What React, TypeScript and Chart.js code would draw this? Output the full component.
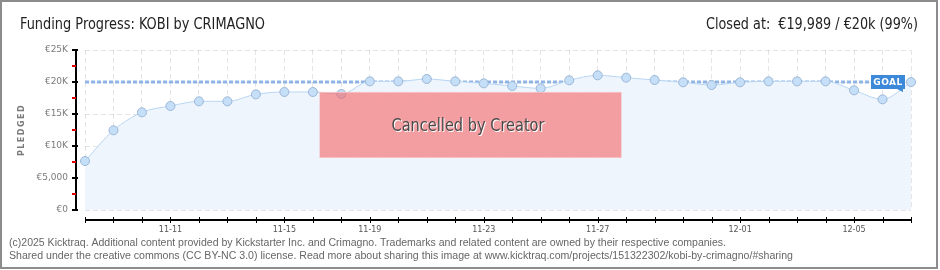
import React, { useEffect, useRef } from 'react';
import { Chart, registerables } from 'chart.js';

Chart.register(...registerables);

// ---- data ----
const dayTickLabels = ['', '', '', '11-11', '', '', '', '11-15', '', '', '11-19', '', '', '', '11-23', '', '', '', '11-27', '', '', '', '', '12-01', '', '', '', '12-05', '', ''];
const pledged = [7650, 12450, 15260, 16250, 16980, 16980, 18070, 18440, 18440, 18130, 20100, 20100, 20470, 20100, 19790, 19380, 19010, 20260, 21040, 20680, 20310, 19950, 19530, 19950, 20100, 20100, 20100, 18700, 17290, 19989];
const yTicks = [0, 5000, 10000, 15000, 20000, 25000];
const yTickLabels = ['€0', '€5,000', '€10K', '€15K', '€20K', '€25K'];
const yMinorTicks = [2500, 7500, 12500, 17500, 22500];
const goal = 20000;
const titleText = 'Funding Progress: KOBI by CRIMAGNO';
const statusText = 'Closed at:  €19,989 / €20k (99%)';
const footerLines = [
  '(c)2025 Kicktraq. Additional content provided by Kickstarter Inc. and Crimagno. Trademarks and related content are owned by their respective companies.',
  'Shared under the creative commons (CC BY-NC 3.0) license. Read more about sharing this image at www.kicktraq.com/projects/151322302/kobi-by-crimagno/#sharing',
];
const cancelText = 'Cancelled by Creator';

const TITLE_FONT = '"DejaVu Sans Condensed", "Liberation Sans Narrow", "DejaVu Sans", sans-serif';

function fitText(ctx: CanvasRenderingContext2D, text: string, x: number, y: number, width: number, font: string, color: string, align: 'left' | 'right' = 'left') {
  ctx.save();
  ctx.font = font;
  ctx.fillStyle = color;
  ctx.textAlign = 'left';
  ctx.textBaseline = 'alphabetic';
  const w = ctx.measureText(text).width;
  const s = width / w;
  const left = align === 'left' ? x : x - width;
  ctx.translate(left, y);
  ctx.scale(s, 1);
  ctx.fillText(text, 0, 0);
  ctx.restore();
}

const decorPlugin = {
  id: 'decor',
  beforeDraw(chart: any) {
    const ctx: CanvasRenderingContext2D = chart.ctx;
    ctx.save();
    ctx.fillStyle = '#ffffff';
    ctx.fillRect(0, 0, chart.width, chart.height);
    ctx.strokeStyle = '#8c8c8c';
    ctx.lineWidth = 2;
    ctx.strokeRect(1, 1, 936, 267);
    ctx.restore();

    fitText(ctx, titleText, 20, 29, 245, '15px ' + TITLE_FONT, '#222222');
    fitText(ctx, statusText, 918, 29, 212, '15px ' + TITLE_FONT, '#222222', 'right');
    fitText(ctx, footerLines[0], 9, 246, 717, '10px "Liberation Sans", sans-serif', '#666666');
    fitText(ctx, footerLines[1], 9, 259, 784, '10px "Liberation Sans", sans-serif', '#666666');

    ctx.save();
    ctx.translate(22, 130);
    ctx.rotate(-Math.PI / 2);
    ctx.font = 'bold 8px "DejaVu Sans", sans-serif';
    (ctx as any).letterSpacing = '1.5px';
    ctx.fillStyle = '#7a7a7a';
    ctx.textAlign = 'center';
    ctx.textBaseline = 'middle';
    ctx.fillText('PLEDGED', 0, 0);
    ctx.restore();
  },
  beforeDatasetsDraw(chart: any) {
    const ctx: CanvasRenderingContext2D = chart.ctx;
    const xs = chart.scales.x;
    const ys = chart.scales.y;
    const y = ys.getPixelForValue(goal);
    const x0 = xs.getPixelForValue(0);
    const x1 = chart.chartArea.right - 40;
    ctx.save();
    ctx.strokeStyle = '#8fb5e6';
    ctx.lineWidth = 3;
    ctx.setLineDash([4, 2]);
    ctx.beginPath();
    ctx.moveTo(x0, y);
    ctx.lineTo(x1, y);
    ctx.stroke();
    ctx.restore();
  },
  afterDatasetsDraw(chart: any) {
    const ctx: CanvasRenderingContext2D = chart.ctx;
    const xs = chart.scales.x;
    const ys = chart.scales.y;
    const area = chart.chartArea;

    // cancelled box
    const bx0 = xs.getPixelForValue(8.24);
    const bx1 = xs.getPixelForValue(18.83);
    const by0 = ys.getPixelForValue(18440);
    const by1 = ys.getPixelForValue(8125);
    ctx.save();
    ctx.fillStyle = 'rgba(243, 98, 98, 0.62)';
    ctx.fillRect(bx0, by0, bx1 - bx0, by1 - by0);
    ctx.beginPath();
    ctx.rect(bx0, by0, bx1 - bx0, by1 - by0);
    ctx.clip();
    ctx.strokeStyle = 'rgba(255,255,255,0.12)';
    ctx.lineWidth = 1;
    for (let k = -200; k < 400; k += 3) {
      ctx.beginPath();
      ctx.moveTo(bx0 + k, by1);
      ctx.lineTo(bx0 + k + (by1 - by0), by0);
      ctx.stroke();
    }
    ctx.restore();
    ctx.save();
    ctx.strokeStyle = 'rgba(250,200,200,0.8)';
    ctx.lineWidth = 1;
    ctx.beginPath();
    ctx.moveTo(bx0, by0 + 0.5);
    ctx.lineTo(bx1, by0 + 0.5);
    ctx.moveTo(bx0, by1 - 0.5);
    ctx.lineTo(bx1, by1 - 0.5);
    ctx.stroke();
    ctx.restore();
    const cx = (bx0 + bx1) / 2 - 3;
    fitText(ctx, cancelText, cx - 76 + 1, 132, 153, '18px ' + TITLE_FONT, '#ffffff');
    fitText(ctx, cancelText, cx - 76, 131, 153, '18px ' + TITLE_FONT, '#4a4a4a');

    // GOAL label
    const gy = ys.getPixelForValue(goal);
    const gx = area.right - 40;
    ctx.save();
    ctx.fillStyle = '#3d89d9';
    ctx.fillRect(gx, gy - 7, 34, 14);
    ctx.beginPath();
    ctx.moveTo(gx + 26, gy + 7);
    ctx.lineTo(gx + 32, gy + 7);
    ctx.lineTo(gx + 32, gy + 10);
    ctx.closePath();
    ctx.fill();
    ctx.fillStyle = '#ffffff';
    ctx.font = 'bold 9px "DejaVu Sans", sans-serif';
    (ctx as any).letterSpacing = '0.5px';
    ctx.textAlign = 'center';
    ctx.textBaseline = 'middle';
    ctx.fillText('GOAL', gx + 17, gy + 0.5);
    ctx.restore();

    // axes
    ctx.save();
    ctx.strokeStyle = '#000000';
    ctx.lineWidth = 2;
    const axY = area.bottom + 10;
    ctx.beginPath();
    ctx.moveTo(area.left, axY);
    ctx.lineTo(area.right, axY);
    ctx.stroke();
    ctx.lineWidth = 1;
    for (let i = 0; i < pledged.length; i++) {
      const x = Math.round(xs.getPixelForValue(i)) + 0.5;
      ctx.beginPath();
      ctx.moveTo(x, axY - 3);
      ctx.lineTo(x, axY + 3);
      ctx.stroke();
    }
    const axX = area.left - 9;
    ctx.lineWidth = 2;
    ctx.beginPath();
    ctx.moveTo(axX, ys.getPixelForValue(25000));
    ctx.lineTo(axX, ys.getPixelForValue(0));
    ctx.stroke();
    ctx.lineWidth = 2;
    for (const v of yTicks) {
      const y = ys.getPixelForValue(v);
      ctx.beginPath();
      ctx.moveTo(axX - 4, y);
      ctx.lineTo(axX + 2, y);
      ctx.stroke();
    }
    ctx.strokeStyle = '#e00000';
    for (const v of yMinorTicks) {
      const y = ys.getPixelForValue(v);
      ctx.beginPath();
      ctx.moveTo(axX - 4, y);
      ctx.lineTo(axX, y);
      ctx.stroke();
    }
    ctx.restore();
  },
};

export default function App() {
  const ref = useRef<HTMLCanvasElement | null>(null);
  useEffect(() => {
    if (!ref.current) return;
    const chart = new Chart(ref.current, {
      type: 'line',
      data: {
        labels: dayTickLabels,
        datasets: [
          {
            data: pledged,
            borderColor: '#b9d6f5',
            borderWidth: 1,
            backgroundColor: '#eef5fd',
            fill: 'origin',
            cubicInterpolationMode: 'monotone',
            pointRadius: 4.5,
            pointBackgroundColor: '#c5dff9',
            pointBorderColor: '#9cb7d6',
            pointBorderWidth: 1,
          },
        ],
      },
      options: {
        animation: false,
        responsive: false,
        devicePixelRatio: 1,
        layout: { padding: { top: 50, left: 8, right: 29, bottom: 0 } },
        plugins: { legend: { display: false }, tooltip: { enabled: false } },
        scales: {
          x: {
            type: 'category',
            offset: false,
            grid: { color: 'rgba(0,0,0,0.1)', drawTicks: false },
            border: { display: false, dash: [5, 3] },
            ticks: {
              autoSkip: false,
              maxRotation: 0,
              padding: 15,
              color: '#555555',
              font: { family: '"DejaVu Sans", sans-serif', size: 8 },
              callback: (_v: any, i: number) => dayTickLabels[i],
            },
            afterFit: (s: any) => {
              s.height = 60;
            },
          },
          y: {
            min: 0,
            max: 25000,
            afterBuildTicks: (s: any) => {
              s.ticks = yTicks.map((v) => ({ value: v }));
            },
            grid: { color: 'rgba(0,0,0,0.1)', drawTicks: false },
            border: { display: false, dash: [5, 3] },
            ticks: {
              padding: 17,
              color: '#7a7a7a',
              font: { family: '"DejaVu Sans", sans-serif', size: 9 },
              callback: (v: any) => yTickLabels[yTicks.indexOf(Number(v))],
            },
            afterFit: (s: any) => {
              s.width = 77;
            },
          },
        },
      },
      plugins: [decorPlugin],
    } as any);
    return () => chart.destroy();
  }, []);
  return (
    <div style={{ position: 'fixed', left: 0, top: 0, width: 940, height: 270 }}>
      <canvas ref={ref} width={940} height={270} style={{ display: 'block' }} />
    </div>
  );
}
